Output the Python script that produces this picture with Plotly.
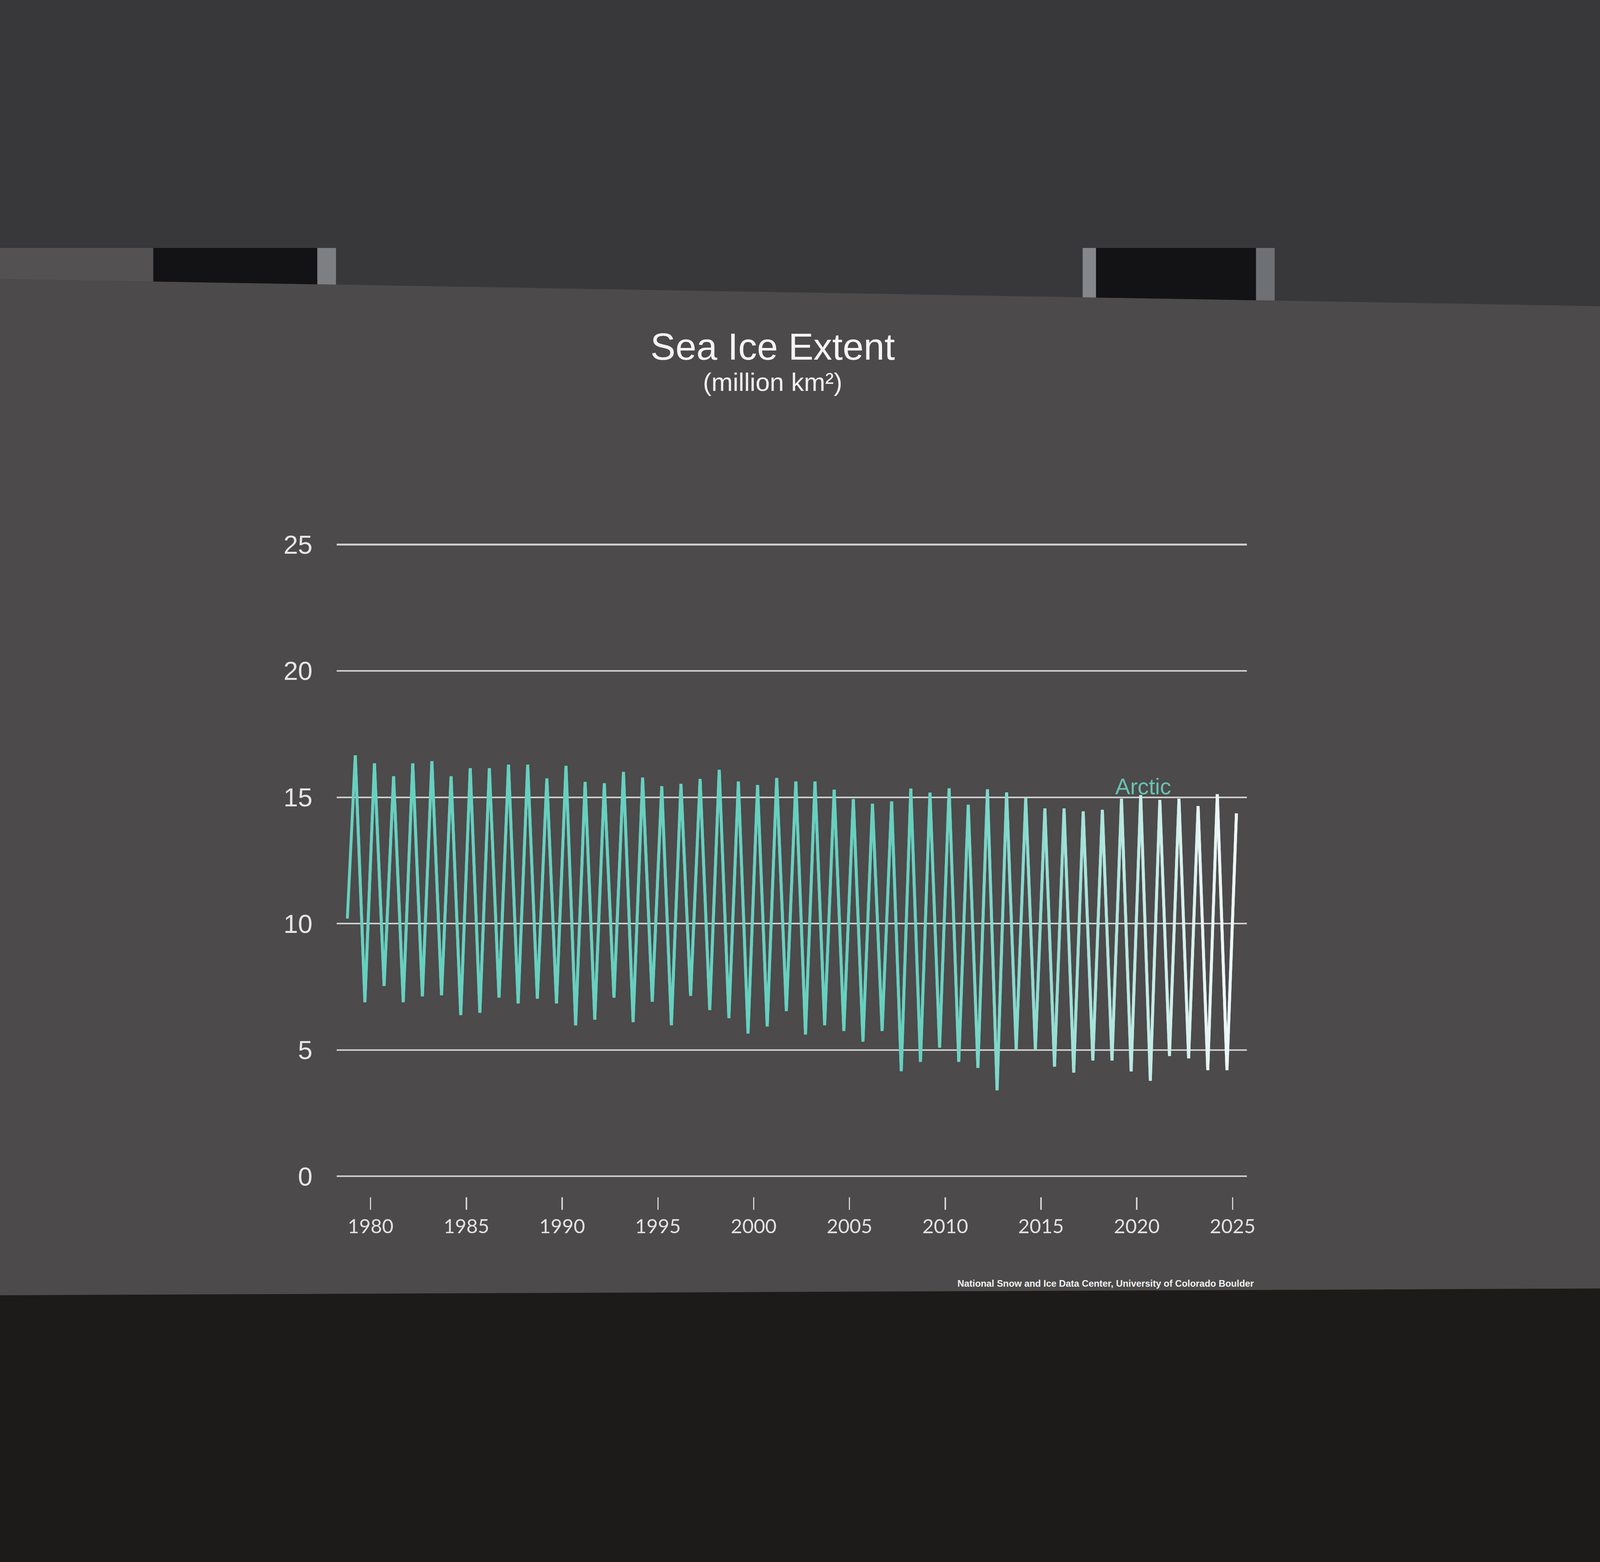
import plotly.graph_objects as go

# Arctic sea ice extent (million km2): yearly max (March) and min (September)
years = list(range(1979, 2025))
march_max = [16.66, 16.34, 15.83, 16.34, 16.43, 15.83, 16.15, 16.15, 16.29, 16.29,
             15.74, 16.24, 15.60, 15.55, 16.00, 15.78, 15.44, 15.53, 15.72, 16.09,
             15.62, 15.48, 15.76, 15.62, 15.62, 15.30, 14.93, 14.74, 14.83, 15.34,
             15.18, 15.35, 14.70, 15.31, 15.19, 14.96, 14.56, 14.56, 14.44, 14.50,
             14.94, 15.08, 14.89, 14.94, 14.65, 15.12]
sept_min = [6.89, 7.53, 6.89, 7.12, 7.16, 6.38, 6.47, 7.07, 6.84, 7.03,
            6.84, 5.97, 6.20, 7.07, 6.10, 6.91, 5.98, 7.14, 6.58, 6.26,
            5.65, 5.93, 6.54, 5.61, 5.98, 5.75, 5.33, 5.75, 4.16, 4.53,
            5.09, 4.53, 4.29, 3.40, 5.00, 5.00, 4.34, 4.10, 4.58, 4.58,
            4.15, 3.78, 4.76, 4.67, 4.20, 4.20]
start_date, start_value = "1978-10-15", 10.2
end_date, end_value = "2025-03-15", 14.36

y_ticks = [0, 5, 10, 15, 20, 25]
x_ticks = [1980, 1985, 1990, 1995, 2000, 2005, 2010, 2015, 2020, 2025]

W, H = 6000, 4000
L, R = 1263, 4676          # plot area left/right in px
Y25, Y0 = 1115, 3505       # where 25 and 0 sit, px from top
K = (Y0 - Y25) / 25        # px per million km2
Y_LO, Y_HI = -0.3, 25.5    # a little slack so the 25 gridline is drawn


def px(x):
    return (x - L) / (R - L)


def py(y):
    return 1 - y / H


# assemble the zigzag in time order
dates = [start_date]
vals = [start_value]
for y, hi, lo in zip(years, march_max, sept_min):
    dates += [f"{y}-03-15", f"{y}-09-15"]
    vals += [hi, lo]
dates.append(end_date)
vals.append(end_value)

teal = (103, 208, 192)
pale = (236, 246, 246)


def colour_for(d):
    yr = int(d[:4]) + (int(d[5:7]) - 0.5) / 12
    f = min(max((yr - 2009) / 16, 0), 1) ** 1.3
    c = [round(a + (b - a) * f) for a, b in zip(teal, pale)]
    return f"rgb({c[0]},{c[1]},{c[2]})"


fig = go.Figure()
n = len(dates)
for i in range(0, n - 1, 2):
    a, b = max(i - 1, 0), min(i + 3, n - 1)
    fig.add_trace(go.Scatter(
        x=dates[a:b + 1], y=vals[a:b + 1], mode="lines",
        line=dict(color=colour_for(dates[min(i + 1, n - 1)]), width=11),
        hoverinfo="skip", showlegend=False,
    ))

slide_bg = "#4c4a4a"

# room ceiling above the projected slide, and the dark edge below it
# (bands run past the figure edges so no slide grey peeks out)
def edge(x):
    return 110 + 103 * x / W

shapes = []
def poly(xs, ys, col):
    path = "M " + " L ".join(f"{px(x):.4f} {py(y):.4f}" for x, y in zip(xs, ys)) + " Z"
    shapes.append(dict(type="path", xref="paper", yref="paper", path=path,
                       fillcolor=col, line=dict(width=0), layer="below"))

T = -200
poly([-200, W + 200, W + 200, -200], [T, T, edge(W + 200), edge(-200)], "#38383a")
poly([-200, 575, 575, -200], [T, T, edge(575), edge(-200)], "#545152")
poly([575, 1190, 1190, 575], [T, T, edge(1190), edge(575)], "#131315")
poly([1190, 1260, 1260, 1190], [T, T, edge(1260), edge(1190)], "#7d7f82")
poly([4060, 4110, 4110, 4060], [T, T, edge(4110), edge(4060)], "#85878a")
poly([4110, 4710, 4710, 4110], [T, T, edge(4710), edge(4110)], "#131315")
poly([4710, 4780, 4780, 4710], [T, T, edge(4780), edge(4710)], "#6e7073")
poly([-200, W + 200, W + 200, -200], [3956, 3929, H + 200, H + 200], "#1d1a1a")

annotations = [
    dict(text="Sea Ice Extent", x=px(2897), y=py(366), xref="paper", yref="paper",
         showarrow=False, xanchor="center", yanchor="middle",
         font=dict(family="Liberation Sans", size=141, color="#f4f4f4")),
    dict(text="(million km²)", x=px(2897), y=py(500), xref="paper", yref="paper",
         showarrow=False, xanchor="center", yanchor="middle",
         font=dict(family="Liberation Sans", size=96, color="#f0f0f0")),
    dict(text="Arctic", x="2020-05-01", y=15.43, xref="x", yref="y",
         showarrow=False, xanchor="center", yanchor="middle",
         font=dict(family="Liberation Sans", size=84, color="#69c2b3")),
    dict(text="<b>National Snow and Ice Data Center, University of Colorado Boulder</b>",
         x=px(4705), y=py(3910), xref="paper", yref="paper",
         showarrow=False, xanchor="right", yanchor="middle",
         font=dict(family="Liberation Sans", size=35, color="#f2f2f2")),
]

fig.update_layout(
    width=W, height=H,
    margin=dict(l=L, r=W - R, t=0, b=0, pad=0),
    paper_bgcolor=slide_bg, plot_bgcolor=slide_bg,
    showlegend=False,
    shapes=shapes,
    annotations=annotations,
    xaxis=dict(
        type="date", range=["1978-03-28", "2025-10-01"],
        anchor="free", position=py(3583),
        tickvals=[f"{y}-01-01" for y in x_ticks], ticktext=[str(y) for y in x_ticks],
        ticks="outside", ticklen=47, tickwidth=5, tickcolor="#d4d4d4",
        showgrid=False, zeroline=False, showline=False,
        tickfont=dict(family="Lato", size=74, color="#e2e2e2"),
    ),
    yaxis=dict(
        range=[Y_LO, Y_HI],
        domain=[py(Y0 - Y_LO * K), py(Y25 - (Y_HI - 25) * K)],
        tickvals=y_ticks, ticks="", ticklabelstandoff=90,
        showgrid=True, gridcolor="#cfcfcf", gridwidth=6,
        zeroline=True, zerolinecolor="#cfcfcf", zerolinewidth=6,
        showline=False,
        tickfont=dict(family="Liberation Sans", size=98, color="#e6e6e6"),
    ),
)

# the browser viewport turns out narrower than 6000 css px: scale the figure down to fit,
# keep its 3:2 shape, centre it and let the room go dark around it
fit_js = """
var gd = document.getElementById('{plot_id}');
var vw = window.innerWidth, vh = window.innerHeight;
var s = Math.min(vw / %d, vh / %d);
var root = document.documentElement;
root.style.margin = '0';
root.style.background = 'linear-gradient(to bottom, #38383a 50%%, #1d1a1a 50%%)';
root.style.height = '100%%';
document.body.style.margin = '0';
document.body.style.overflow = 'hidden';
document.body.style.background = 'transparent';
var box = gd.parentElement;
box.style.position = 'absolute';
box.style.left = ((vw - %d * s) / 2) + 'px';
box.style.top = ((vh - %d * s) / 2) + 'px';
box.style.width = (%d * s) + 'px';
box.style.height = (%d * s) + 'px';
box.style.overflow = 'hidden';
gd.style.transformOrigin = '0 0';
gd.style.transform = 'scale(' + s + ')';
""" % (W, H, W, H, W, H)

fig.write_html("out.html", post_script=fit_js)
